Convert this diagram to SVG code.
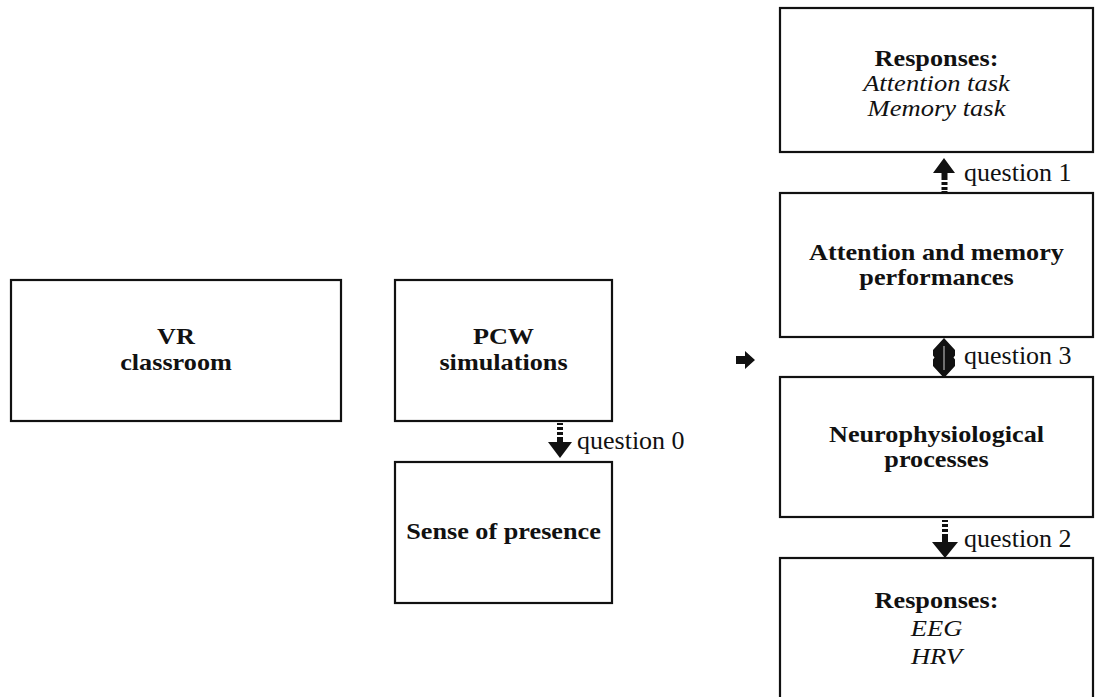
<svg xmlns="http://www.w3.org/2000/svg" width="1105" height="697" viewBox="0 0 1105 697">
<style>
.box{fill:#fff;stroke:#111;stroke-width:2.2}
.b{font-family:"Liberation Serif","Times New Roman",serif;font-weight:bold;font-size:23px;fill:#111;text-anchor:middle}
.i{font-family:"Liberation Serif","Times New Roman",serif;font-style:italic;font-size:23.5px;fill:#111;text-anchor:middle}
.q{font-family:"Liberation Serif","Times New Roman",serif;font-size:26px;fill:#111}
.a{fill:#111}
.w{fill:#fff}
</style>
<rect width="1105" height="697" fill="#fff"/>
<g id="vr"><rect class="box" x="11" y="280" width="330" height="141"/><text class="b" transform="translate(176 344) scale(1.14 1)">VR</text><text class="b" transform="translate(176 370) scale(1.14 1)">classroom</text></g>
<g id="pcw"><rect class="box" x="395" y="280" width="217" height="141"/><text class="b" transform="translate(503.5 344) scale(1.14 1)">PCW</text><text class="b" transform="translate(503.5 370) scale(1.14 1)">simulations</text></g>
<g id="presence"><rect class="box" x="395" y="462" width="217" height="141"/><text class="b" transform="translate(503.5 539) scale(1.14 1)">Sense of presence</text></g>
<g id="resp1"><rect class="box" x="780" y="8" width="313" height="144"/><text class="b" transform="translate(936.5 66) scale(1.14 1)">Responses:</text><text class="i" transform="translate(936.5 91) scale(1.13 1)">Attention task</text><text class="i" transform="translate(936.5 116) scale(1.13 1)">Memory task</text></g>
<g id="attmem"><rect class="box" x="780" y="193" width="313" height="144"/><text class="b" transform="translate(936.5 260) scale(1.14 1)">Attention and memory</text><text class="b" transform="translate(936.5 285) scale(1.14 1)">performances</text></g>
<g id="neuro"><rect class="box" x="780" y="377" width="313" height="140"/><text class="b" transform="translate(936.5 442) scale(1.14 1)">Neurophysiological</text><text class="b" transform="translate(936.5 467) scale(1.14 1)">processes</text></g>
<g id="resp2"><rect class="box" x="780" y="558" width="313" height="145"/><text class="b" transform="translate(936.5 608) scale(1.14 1)">Responses:</text><text class="i" transform="translate(936.5 636) scale(1.13 1)">EEG</text><text class="i" transform="translate(936.5 664) scale(1.13 1)">HRV</text></g>
<g id="connectors">
<g id="q1"><polygon class="a" points="944,158 955,173 947.5,173 947.5,180 941.5,180 941.5,173 933,173"/><rect class="a" x="941.5" y="182" width="6" height="3"/><rect class="a" x="941.5" y="187" width="6" height="3"/><rect class="a" x="941.5" y="191" width="6" height="2"/><text class="q" x="964" y="181">question 1</text></g>
<g id="q3"><polygon class="a" points="944,338 955,350 955,355.5 953.5,357.5 955,359.5 955,366 944,378 933,366 933,359.5 934.5,357.5 933,355.5 933,350"/><rect class="w" x="943.6" y="346" width="0.8" height="24"/><text class="q" x="964" y="364">question 3</text></g>
<g id="q2"><rect class="a" x="942" y="520" width="6" height="2"/><rect class="a" x="942" y="524" width="6" height="3"/><rect class="a" x="942" y="529" width="6" height="3"/><polygon class="a" points="942,534 948,534 948,542 958,542 945,558 932,542 942,542"/><text class="q" x="964" y="547">question 2</text></g>
<g id="q0"><rect class="a" x="557" y="423" width="6" height="2"/><rect class="a" x="557" y="427" width="6" height="3"/><rect class="a" x="557" y="432" width="6" height="3"/><polygon class="a" points="557,437 563,437 563,442 572,442 560,458 548,442 557,442"/><text class="q" x="577" y="449">question 0</text></g>
<g id="right"><polygon class="a" points="736,356 745,356 745,351 755,360 745,369 745,364 736,364"/></g>
</g>
</svg>
